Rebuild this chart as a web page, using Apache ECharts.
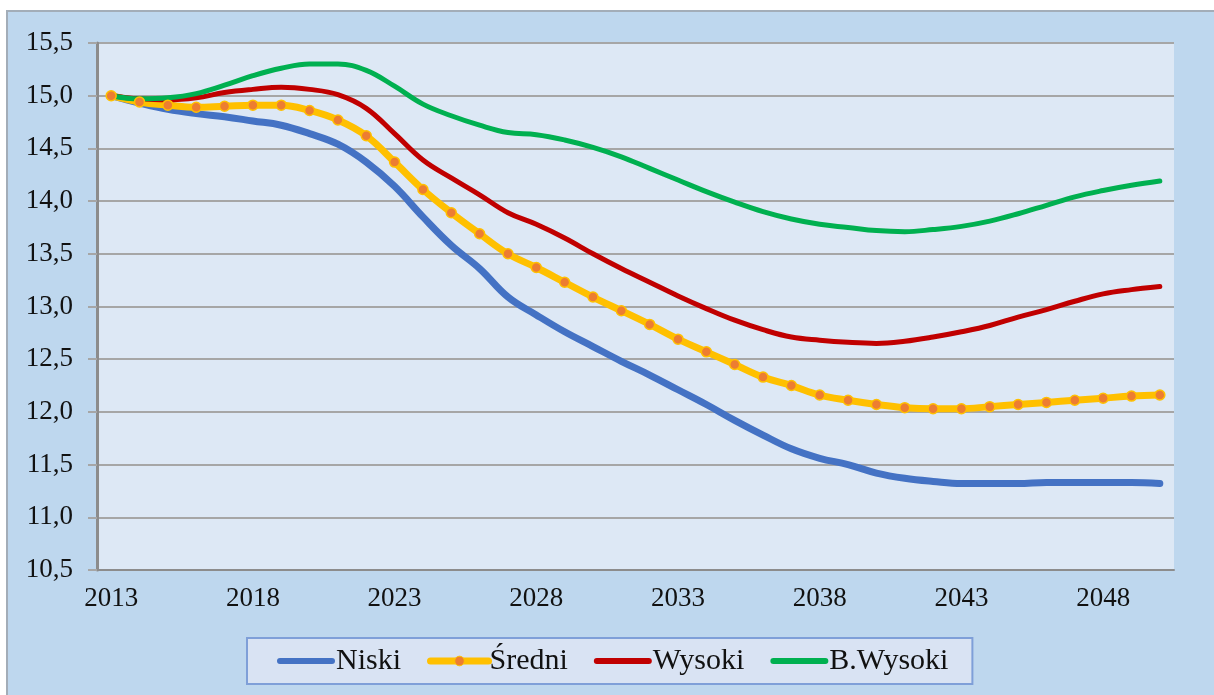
<!DOCTYPE html>
<html>
<head>
<meta charset="utf-8">
<script src="https://cdn.jsdelivr.net/npm/echarts@6/dist/echarts.min.js"></script>
<style>
  html, body { margin: 0; padding: 0; background: #ffffff; }
  #chart { width: 1214px; height: 695px; }
</style>
</head>
<body>
<div id="chart"></div>
<script>
// years on the category axis
const years = [2013, 2014, 2015, 2016, 2017, 2018, 2019, 2020, 2021, 2022,
  2023, 2024, 2025, 2026, 2027, 2028, 2029, 2030, 2031, 2032,
  2033, 2034, 2035, 2036, 2037, 2038, 2039, 2040, 2041, 2042,
  2043, 2044, 2045, 2046, 2047, 2048, 2049, 2050]

const seriesNames = ['Niski', 'Średni', 'Wysoki', 'B.Wysoki']

const niski = [15.00, 14.93, 14.87, 14.83, 14.80, 14.76, 14.72, 14.64, 14.54, 14.37,
  14.14, 13.85, 13.58, 13.36, 13.09, 12.92, 12.76, 12.62, 12.48, 12.35,
  12.21, 12.07, 11.92, 11.78, 11.65, 11.56, 11.50, 11.42, 11.37, 11.34,
  11.32, 11.32, 11.32, 11.33, 11.33, 11.33, 11.33, 11.32]

const sredni = [15.00, 14.94, 14.91, 14.89, 14.90, 14.91, 14.91, 14.86, 14.77, 14.62,
  14.37, 14.11, 13.89, 13.69, 13.50, 13.37, 13.23, 13.09, 12.96, 12.83,
  12.69, 12.57, 12.45, 12.33, 12.25, 12.16, 12.11, 12.07, 12.04, 12.03,
  12.03, 12.05, 12.07, 12.09, 12.11, 12.13, 12.15, 12.16]

const wysoki = [15.00, 14.97, 14.96, 14.98, 15.03, 15.06, 15.08, 15.06, 15.01, 14.88,
  14.64, 14.39, 14.22, 14.06, 13.89, 13.78, 13.65, 13.50, 13.36, 13.23,
  13.10, 12.98, 12.87, 12.78, 12.71, 12.68, 12.66, 12.65, 12.67, 12.71,
  12.76, 12.82, 12.90, 12.97, 13.05, 13.12, 13.16, 13.19]

const bWysoki = [15.00, 14.97, 14.98, 15.02, 15.10, 15.19, 15.26, 15.30, 15.30, 15.24,
  15.09, 14.92, 14.81, 14.72, 14.65, 14.63, 14.58, 14.51, 14.42, 14.31,
  14.20, 14.09, 13.99, 13.90, 13.83, 13.78, 13.75, 13.72, 13.71, 13.73,
  13.76, 13.81, 13.88, 13.96, 14.04, 14.10, 14.15, 14.19]

const yMin = 10.5
const yMax = 15.5
const yStep = 0.5

const colors = ['#4472c4', '#ffc000', '#c00000', '#00b050']
const markerColor = '#ed7d31'

const serif = "'Liberation Serif', 'Times New Roman', serif"
const gridGray = '#a6a6a6'
const axisGray = '#8c8c8c'

// bar 58 wide, 6 thick, centred in a 12 high box (tiny dummy subpaths fix the box)
const barIcon = 'path://M0,0L0.01,0L0.01,0.01ZM3,3L55,3A3,3 0 0 1 55,9L3,9A3,3 0 0 1 3,3ZM58,12L57.99,12L57.99,11.99Z'

const chart = echarts.init(document.getElementById('chart'), null, { renderer: 'canvas' })

const lineSeries = (name, data, color, width) => ({
  name: name,
  type: 'line',
  data: data,
  smooth: 0.4,
  symbol: 'none',
  lineStyle: { color: color, width: width, cap: 'round' },
  itemStyle: { color: color },
  emphasis: { disabled: true }
})

// legend entries: plain thick bars, the middle one keeps its dot
const legendItems = seriesNames.map((name, i) => {
  if (name === 'Średni') {
    return {
      name: name,
      lineStyle: { color: colors[i], width: 7 },
      itemStyle: { color: markerColor, borderColor: colors[i], borderWidth: 1 }
    }
  }
  return { name: name, icon: barIcon, itemStyle: { color: colors[i] } }
})

const option = {
  animation: false,
  backgroundColor: 'transparent',
  graphic: [
    {
      type: 'rect',
      z: -10,
      shape: { x: 7, y: 11, width: 1230, height: 700 },
      style: { fill: '#bed7ee', stroke: '#a3adb8', lineWidth: 2 }
    }
  ],
  grid: {
    left: 97, right: 40, top: 43, bottom: 125,
    show: true, backgroundColor: '#dde8f5', borderWidth: 0
  },
  legend: {
    data: legendItems,
    left: 247, top: 638,
    padding: [8, 24, 8, 30],
    itemWidth: 58, itemHeight: 12, itemGap: 26,
    backgroundColor: '#d9e3f3',
    borderColor: '#7f9fd8', borderWidth: 2,
    textStyle: { fontFamily: serif, fontSize: 30, color: '#111111', padding: [0, 0, 0, -4] }
  },
  xAxis: {
    type: 'category',
    data: years,
    boundaryGap: true,
    axisLine: { lineStyle: { color: axisGray, width: 2 } },
    axisTick: { interval: 4, length: 7, lineStyle: { color: axisGray, width: 2 } },
    axisLabel: { interval: 4, margin: 15, fontFamily: serif, fontSize: 27, color: '#111111' },
    splitLine: { show: false }
  },
  yAxis: {
    type: 'value',
    min: yMin, max: yMax, interval: yStep,
    axisLine: { show: true, lineStyle: { color: axisGray, width: 3 } },
    axisTick: { show: true, length: 9, lineStyle: { color: gridGray, width: 2 } },
    axisLabel: {
      margin: 24, fontFamily: serif, fontSize: 27, color: '#111111',
      formatter: v => v.toFixed(1).replace('.', ',')
    },
    splitLine: { lineStyle: { color: gridGray, width: 2 } }
  },
  series: [
    lineSeries('Niski', niski, colors[0], 7),
    {
      name: 'Średni',
      type: 'line',
      data: sredni,
      smooth: 0.4,
      symbol: 'circle',
      symbolSize: 10,
      lineStyle: { color: colors[1], width: 7, cap: 'round' },
      itemStyle: { color: markerColor, borderColor: colors[1], borderWidth: 1.5 },
      emphasis: { disabled: true }
    },
    lineSeries('Wysoki', wysoki, colors[2], 5),
    lineSeries('B.Wysoki', bWysoki, colors[3], 5)
  ]
}

chart.setOption(option)
</script>
</body>
</html>
